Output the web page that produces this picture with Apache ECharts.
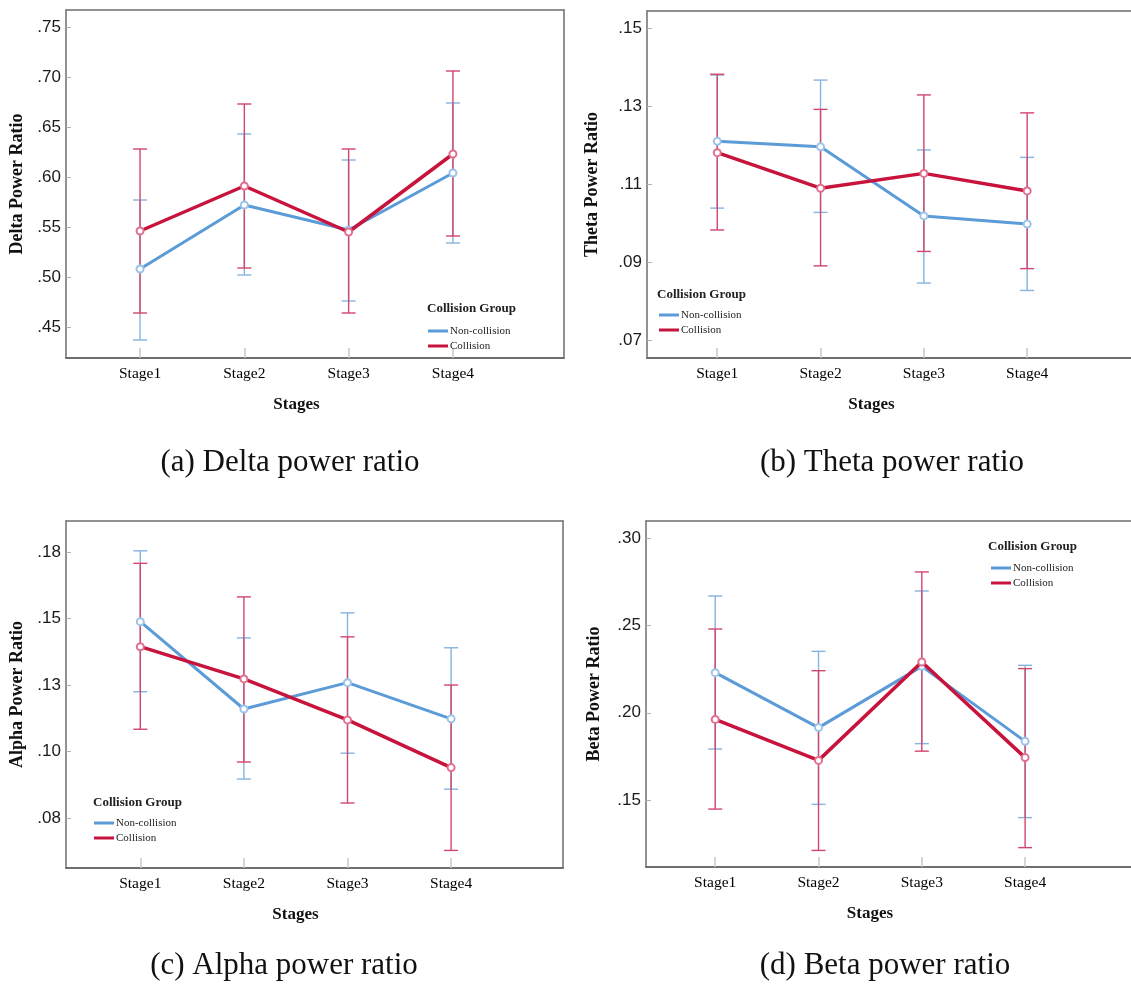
<!DOCTYPE html>
<html>
<head>
<meta charset="utf-8">
<script src="https://cdn.jsdelivr.net/npm/echarts@6/dist/echarts.min.js"></script>
<style>
html,body{margin:0;padding:0;background:#fff;overflow:hidden;}
#chart{width:1131px;height:989px;}
</style>
</head>
<body>
<div id="chart"></div>
<script>
// ---------- DATA ----------
const stages = ['Stage1', 'Stage2', 'Stage3', 'Stage4'];
const groups = ['Non-collision', 'Collision'];

// Delta
const deltaNonMean = [0.508, 0.572, 0.547, 0.604];
const deltaNonLow  = [0.437, 0.502, 0.476, 0.534];
const deltaNonHigh = [0.577, 0.643, 0.617, 0.674];
const deltaColMean = [0.546, 0.591, 0.545, 0.623];
const deltaColLow  = [0.464, 0.509, 0.464, 0.541];
const deltaColHigh = [0.628, 0.673, 0.628, 0.706];
const deltaTicks  = [0.45, 0.50, 0.55, 0.60, 0.65, 0.70, 0.75];
const deltaLabels = ['.45', '.50', '.55', '.60', '.65', '.70', '.75'];

// Theta
const thetaNonMean = [0.1210, 0.1196, 0.1019, 0.0998];
const thetaNonLow  = [0.1039, 0.1028, 0.0847, 0.0828];
const thetaNonHigh = [0.1380, 0.1367, 0.1188, 0.1169];
const thetaColMean = [0.1181, 0.1090, 0.1128, 0.1083];
const thetaColLow  = [0.0983, 0.0891, 0.0928, 0.0884];
const thetaColHigh = [0.1382, 0.1292, 0.1329, 0.1283];
const thetaTicks  = [0.07, 0.09, 0.11, 0.13, 0.15];
const thetaLabels = ['.07', '.09', '.11', '.13', '.15'];

// Alpha
const alphaNonMean = [0.1488, 0.1160, 0.1259, 0.1123];
const alphaNonLow  = [0.1225, 0.0897, 0.0994, 0.0859];
const alphaNonHigh = [0.1754, 0.1427, 0.1521, 0.1390];
const alphaColMean = [0.1394, 0.1273, 0.1119, 0.0940];
const alphaColLow  = [0.1084, 0.0961, 0.0807, 0.0629];
const alphaColHigh = [0.1707, 0.1581, 0.1431, 0.1250];
const alphaTicks  = [0.075, 0.100, 0.125, 0.150, 0.175];
const alphaLabels = ['.08', '.10', '.13', '.15', '.18'];

// Beta
const betaNonMean = [0.2230, 0.1915, 0.2266, 0.1836];
const betaNonLow  = [0.1792, 0.1475, 0.1823, 0.1399];
const betaNonHigh = [0.2669, 0.2352, 0.2698, 0.2272];
const betaColMean = [0.1962, 0.1727, 0.2291, 0.1743];
const betaColLow  = [0.1448, 0.1211, 0.1780, 0.1227];
const betaColHigh = [0.2480, 0.2241, 0.2807, 0.2253];
const betaTicks  = [0.15, 0.20, 0.25, 0.30];
const betaLabels = ['.15', '.20', '.25', '.30'];

const yTitles = ['Delta Power Ratio', 'Theta Power Ratio', 'Alpha Power Ratio', 'Beta Power Ratio'];
const captions = ['(a) Delta power ratio', '(b) Theta power ratio', '(c) Alpha power ratio', '(d) Beta power ratio'];
const xTitle = 'Stages';
const legendTitle = 'Collision Group';

// ---------- LAYOUT / STYLE ----------
const SERIF = '"Liberation Serif", "Times New Roman", serif';
const SANS = '"Liberation Sans", Arial, sans-serif';
const BLUE = '#5b9bd8';
const RED = '#c8143c';
const BLUE_ERR = '#86b3df';
const RED_ERR = '#d2456e';
const FRAME = '#6e6e6e';

const panels = [
  { non: [deltaNonMean, deltaNonLow, deltaNonHigh], col: [deltaColMean, deltaColLow, deltaColHigh],
    ticks: deltaTicks, labels: deltaLabels, ymin: 0.419, ymax: 0.767,
    grid: { left: 66, top: 10, width: 498, height: 348 }, xmin: 0.29, xmax: 5.065, rightFrame: true,
    nameGap: 40, namePad: 37,
    legendTitlePos: [427, 302], legendPos: [428, 325], caption: [290, 463] },
  { non: [thetaNonMean, thetaNonLow, thetaNonHigh], col: [thetaColMean, thetaColLow, thetaColHigh],
    ticks: thetaTicks, labels: thetaLabels, ymin: 0.0655, ymax: 0.1544,
    grid: { left: 647, top: 11, width: 484, height: 347 }, xmin: 0.32, xmax: 5.005, rightFrame: false,
    nameGap: 46, namePad: 35,
    legendTitlePos: [657, 288], legendPos: [659, 309], caption: [892, 463] },
  { non: [alphaNonMean, alphaNonLow, alphaNonHigh], col: [alphaColMean, alphaColLow, alphaColHigh],
    ticks: alphaTicks, labels: alphaLabels, ymin: 0.0563, ymax: 0.1866,
    grid: { left: 66, top: 521, width: 497, height: 347 }, xmin: 0.283, xmax: 5.08, rightFrame: true,
    nameGap: 40, namePad: 38,
    legendTitlePos: [93, 796], legendPos: [94, 817], caption: [284, 966] },
  { non: [betaNonMean, betaNonLow, betaNonHigh], col: [betaColMean, betaColLow, betaColHigh],
    ticks: betaTicks, labels: betaLabels, ymin: 0.1116, ymax: 0.3099,
    grid: { left: 646, top: 521, width: 485, height: 346 }, xmin: 0.33, xmax: 5.025, rightFrame: false,
    nameGap: 43, namePad: 37,
    legendTitlePos: [988, 540], legendPos: [991, 562], caption: [885, 966] }
];

const stagePos = stages.map((s, i) => i + 1);

function errRender(color) {
  return function (params, api) {
    const x = api.value(0), lo = api.value(1), hi = api.value(2);
    const pLo = api.coord([x, lo]);
    const pHi = api.coord([x, hi]);
    const hw = 7;
    const st = { stroke: color, lineWidth: 1.4 };
    return {
      type: 'group',
      children: [
        { type: 'line', shape: { x1: pLo[0], y1: pLo[1], x2: pHi[0], y2: pHi[1] }, style: st },
        { type: 'line', shape: { x1: pLo[0] - hw, y1: pLo[1], x2: pLo[0] + hw, y2: pLo[1] }, style: st },
        { type: 'line', shape: { x1: pHi[0] - hw, y1: pHi[1], x2: pHi[0] + hw, y2: pHi[1] }, style: st }
      ]
    };
  };
}

const option = {
  backgroundColor: '#fff',
  animation: false,
  grid: [], xAxis: [], yAxis: [], series: [], legend: [], title: [], graphic: []
};

const frameOnly = (extra) => Object.assign({
  axisLine: { show: true, onZero: false, lineStyle: { color: FRAME, width: 1.5 } },
  axisTick: { show: false }, axisLabel: { show: false }, splitLine: { show: false }
}, extra);

panels.forEach((p, k) => {
  option.grid.push(Object.assign({ show: false, containLabel: false }, p.grid));
  // main x axis (index 2k) and top frame axis (2k+1)
  option.xAxis.push({
    type: 'value', gridIndex: k, min: p.xmin, max: p.xmax, position: 'bottom',
    name: xTitle, nameLocation: 'middle', nameGap: 38,
    nameTextStyle: { fontFamily: SERIF, fontWeight: 'bold', fontSize: 17, color: '#111', padding: [0, p.namePad, 0, 0] },
    axisLine: { show: true, onZero: false, lineStyle: { color: FRAME, width: 2 } },
    axisTick: { show: true, inside: true, length: 10, customValues: stagePos, lineStyle: { color: '#c8c8c8', width: 1.5 } },
    axisLabel: { customValues: stagePos, margin: 8, fontFamily: SERIF, fontSize: 15.5, color: '#000',
      formatter: v => stages[Math.round(v) - 1] },
    splitLine: { show: false }
  });
  option.xAxis.push(frameOnly({ type: 'value', gridIndex: k, min: p.xmin, max: p.xmax, position: 'top' }));
  // main y axis (index 2k) and right frame axis (2k+1)
  option.yAxis.push({
    type: 'value', gridIndex: k, min: p.ymin, max: p.ymax, position: 'left',
    name: yTitles[k], nameLocation: 'middle', nameGap: p.nameGap,
    nameTextStyle: { fontFamily: SERIF, fontWeight: 'bold', fontSize: 18, color: '#111' },
    axisLine: { show: true, onZero: false, lineStyle: { color: FRAME, width: 1.5 } },
    axisTick: { show: true, inside: true, length: 5, customValues: p.ticks, lineStyle: { color: '#b0b0b0' } },
    axisLabel: { customValues: p.ticks, margin: 5, fontFamily: SANS, fontSize: 17, color: '#1a1a1a',
      formatter: v => {
        let best = 0;
        p.ticks.forEach((t, i) => { if (Math.abs(t - v) < Math.abs(p.ticks[best] - v)) best = i; });
        return p.labels[best];
      } },
    splitLine: { show: false }
  });
  option.yAxis.push(frameOnly({ type: 'value', gridIndex: k, min: p.ymin, max: p.ymax, position: 'right',
    show: p.rightFrame }));

  const xi = 2 * k, yi = 2 * k;
  const nonErr = stagePos.map((x, i) => [x, p.non[1][i], p.non[2][i]]);
  const colErr = stagePos.map((x, i) => [x, p.col[1][i], p.col[2][i]]);
  option.series.push({ type: 'custom', name: 'ci-non', xAxisIndex: xi, yAxisIndex: yi, data: nonErr,
    renderItem: errRender(BLUE_ERR), z: 2 });
  option.series.push({ type: 'custom', name: 'ci-col', xAxisIndex: xi, yAxisIndex: yi, data: colErr,
    renderItem: errRender(RED_ERR), z: 3 });
  option.series.push({ type: 'line', name: groups[0], xAxisIndex: xi, yAxisIndex: yi,
    data: stagePos.map((x, i) => [x, p.non[0][i]]),
    lineStyle: { color: BLUE, width: 3 }, itemStyle: { color: '#9cc3ea', borderColor: '#9cc3ea' },
    symbol: 'emptyCircle', symbolSize: 7, z: 4 });
  option.series.push({ type: 'line', name: groups[1], xAxisIndex: xi, yAxisIndex: yi,
    data: stagePos.map((x, i) => [x, p.col[0][i]]),
    lineStyle: { color: RED, width: 3.5 }, itemStyle: { color: '#e0708f', borderColor: '#e0708f' },
    symbol: 'emptyCircle', symbolSize: 7, z: 5 });

  option.title.push({ text: legendTitle, left: p.legendTitlePos[0], top: p.legendTitlePos[1], padding: 0,
    textStyle: { fontFamily: SERIF, fontWeight: 'bold', fontSize: 13, color: '#222' } });
  option.legend.push({
    left: p.legendPos[0], top: p.legendPos[1], orient: 'vertical', padding: 0, itemGap: 3,
    itemWidth: 20, itemHeight: 3, icon: 'rect', selectedMode: false,
    data: [{ name: groups[0], itemStyle: { color: BLUE } }, { name: groups[1], itemStyle: { color: RED } }],
    textStyle: { fontFamily: SERIF, fontSize: 11, color: '#222', padding: [0, 0, 0, -3], lineHeight: 12 }
  });
  option.graphic.push({ type: 'text', x: p.caption[0], y: p.caption[1],
    style: { text: captions[k], x: 0, y: 0, textAlign: 'center', textVerticalAlign: 'middle',
      font: '31px ' + SERIF, fill: '#111' } });
});

const chart = echarts.init(document.getElementById('chart'), null, { renderer: 'canvas' });
chart.setOption(option);
</script>
</body>
</html>
